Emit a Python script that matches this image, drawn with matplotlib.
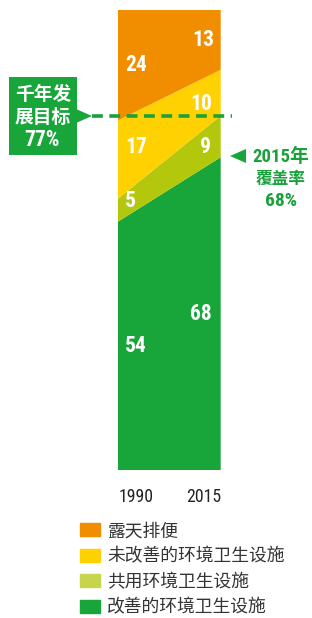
import numpy as np
import matplotlib.pyplot as plt
from matplotlib.patches import Patch, Polygon, Rectangle

plt.rcParams['font.family'] = ['Noto Sans CJK SC', 'DejaVu Sans']

# data
years = ['1990', '2015']
improved = [54, 68]
shared = [5, 9]
unimproved = [17, 10]
open_def = [24, 13]
labels = ['露天排便', '未改善的环境卫生设施', '共用环境卫生设施', '改善的环境卫生设施']
mdg_target = 77

c_open = '#F18E00'
c_unimp = '#FFD100'
c_shared = '#B3C80C'
c_shared_leg = '#C6D54C'
c_imp = '#18A63A'
c_text = '#1AA03C'

narrow = ['Liberation Sans Narrow', 'Roboto Condensed', 'Roboto', 'DejaVu Sans']

fig = plt.figure(figsize=(3.12, 6.18), dpi=100)
W, H = 312, 618
ax = fig.add_axes([118 / W, (H - 470) / H, 102.7 / W, 460 / H])

x = np.array([0, 1])
ax.stackplot(x, improved, shared, unimproved, open_def,
             colors=[c_imp, c_shared, c_unimp, c_open], linewidth=0)
ax.set_xlim(0, 1)
ax.set_ylim(0, 100)
for s in ax.spines.values():
    s.set_visible(False)
ax.set_yticks([])
ax.set_xticks([0.175, 0.83], labels=years)
ax.tick_params(axis='x', length=0, pad=13, labelsize=12.8, labelcolor='#222222')
for t in ax.get_xticklabels():
    t.set_family(narrow)

# value labels
lab_pos = [
    (0.175, 27, improved[0]), (0.81, 34, improved[1]),
    (0.12, 58.5, shared[0]), (0.85, 70.2, shared[1]),
    (0.175, 70.2, unimproved[0]), (0.81, 79.6, unimproved[1]),
    (0.175, 88, open_def[0]), (0.83, 93.5, open_def[1]),
]
for xp, yp, v in lab_pos:
    ax.text(xp, yp, str(v), color='white', fontsize=15.5, fontweight='bold',
            ha='center', va='center', family=narrow)

# MDG dashed line
tr = ax.get_yaxis_transform()
ax.plot([-0.25, 1.11], [mdg_target, mdg_target], transform=tr, clip_on=False,
        color=c_text, lw=2.6, dashes=(3.0, 1.8))

# overlay in pixel coords for callouts
ov = fig.add_axes([0, 0, 1, 1], zorder=5)
ov.set_xlim(0, W)
ov.set_ylim(H, 0)
ov.axis('off')
ov.patch.set_alpha(0)

ov.add_patch(Rectangle((9, 77), 68, 78, color=c_imp, lw=0))
ov.add_patch(Polygon([[76, 109], [76, 123], [92, 116]], color=c_imp, lw=0))
ov.text(43, 94, '千年发', color='white', fontsize=13.5, fontweight='bold',
        ha='center', va='center')
ov.text(43, 117, '展目标', color='white', fontsize=13.5, fontweight='bold',
        ha='center', va='center')
ov.text(42, 140, f'{mdg_target}%', color='white', fontsize=15.5, fontweight='bold',
        ha='center', va='center', family=narrow)

ov.add_patch(Polygon([[230, 156], [246, 149], [246, 163]], color=c_imp, lw=0))
ov.text(281, 157, '2015年', color=c_text, fontsize=13.5, fontweight='bold',
        ha='center', va='center', family=narrow[:-1] + ['Noto Sans CJK SC'])
ov.text(281, 179, '覆盖率', color=c_text, fontsize=12, fontweight='bold',
        ha='center', va='center')
ov.text(281, 201, f'{improved[1]}%', color=c_text, fontsize=14, fontweight='bold',
        ha='center', va='center', family=narrow)

# legend
handles = [Patch(color=c_open), Patch(color=c_unimp),
           Patch(color=c_shared_leg), Patch(color=c_imp)]
fig.legend(handles, labels, loc='upper left', bbox_to_anchor=(73 / W, 1 - 515 / H),
           frameon=False, fontsize=12.8, handlelength=1.12, handleheight=0.75,
           handletextpad=0.4, labelspacing=0.42, labelcolor='#333333',
           borderaxespad=0)

fig.savefig('out.png', dpi=100)
